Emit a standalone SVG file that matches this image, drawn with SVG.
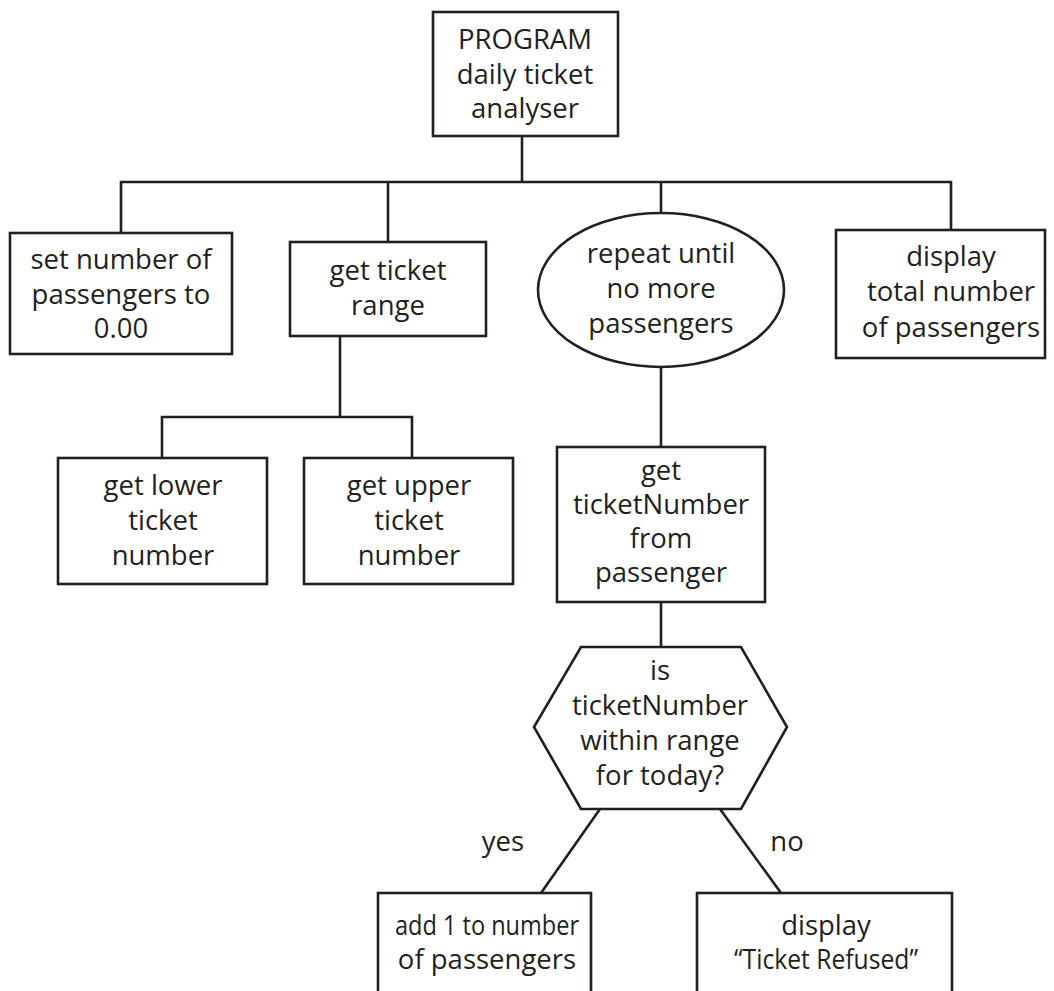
<svg xmlns="http://www.w3.org/2000/svg" width="1054" height="991" viewBox="0 0 1054 991">
<style>
.s{fill:#fff;stroke:#231f20;stroke-width:2.6}
.c{fill:none;stroke:#231f20;stroke-width:2.6}
text{font-family:"Open Sans","Liberation Sans",sans-serif;font-size:27.5px;fill:#231f20;text-anchor:middle}
</style>
<rect width="1054" height="991" fill="#fff"/>
<g id="connectors">
<line class="c" x1="522" y1="136" x2="522" y2="182"/>
<polyline class="c" points="121,233 121,182 951,182 951,230"/>
<line class="c" x1="388" y1="182" x2="388" y2="242"/>
<line class="c" x1="661" y1="182" x2="661" y2="213"/>
<line class="c" x1="340" y1="336" x2="340" y2="417"/>
<polyline class="c" points="162,458 162,417 412,417 412,458"/>
<line class="c" x1="661" y1="367" x2="661" y2="447"/>
<line class="c" x1="661" y1="602" x2="661" y2="647"/>
<line class="c" x1="600" y1="809" x2="541" y2="893"/>
<line class="c" x1="720" y1="809" x2="781" y2="893"/>
<text x="503" y="851">yes</text>
<text x="787" y="851">no</text>
</g>
<g id="root">
<rect class="s" x="433" y="12" width="185" height="124"/>
<text x="525" y="49">PROGRAM</text>
<text x="525" y="84">daily ticket</text>
<text x="525" y="118">analyser</text>
</g>
<g id="set-passengers">
<rect class="s" x="10" y="233" width="222" height="121"/>
<text x="121" y="269">set number of</text>
<text x="121" y="303.5">passengers to</text>
<text x="121" y="338">0.00</text>
</g>
<g id="get-range">
<rect class="s" x="290" y="242" width="196" height="94"/>
<text x="388" y="280">get ticket</text>
<text x="388" y="315">range</text>
</g>
<g id="repeat">
<ellipse class="s" cx="661" cy="290" rx="123" ry="77"/>
<text x="661" y="263">repeat until</text>
<text x="661" y="298">no more</text>
<text x="661" y="333">passengers</text>
</g>
<g id="display-total">
<rect class="s" x="836" y="230" width="209" height="128"/>
<text x="951" y="265.5">display</text>
<text x="951" y="301">total number</text>
<text x="951" y="336.5">of passengers</text>
</g>
<g id="get-lower">
<rect class="s" x="58" y="458" width="209" height="126"/>
<text x="163" y="495">get lower</text>
<text x="163" y="529.5">ticket</text>
<text x="163" y="565">number</text>
</g>
<g id="get-upper">
<rect class="s" x="304" y="458" width="209" height="126"/>
<text x="409" y="495">get upper</text>
<text x="409" y="529.5">ticket</text>
<text x="409" y="565">number</text>
</g>
<g id="get-ticketnumber">
<rect class="s" x="557" y="447" width="208" height="155"/>
<text x="661" y="479.5">get</text>
<text x="661" y="514">ticketNumber</text>
<text x="661" y="548">from</text>
<text x="661" y="581.5">passenger</text>
</g>
<g id="decision">
<polygon class="s" points="581,647 741,647 787,727 741,809 581,809 534,727"/>
<text x="660" y="680">is</text>
<text x="660" y="715">ticketNumber</text>
<text x="660" y="750">within range</text>
<text x="660" y="785">for today?</text>
</g>
<g id="add-one">
<rect class="s" x="378" y="893" width="213" height="120"/>
<text x="487" y="935" textLength="184" lengthAdjust="spacingAndGlyphs">add 1 to number</text>
<text x="487" y="969">of passengers</text>
</g>
<g id="refused">
<rect class="s" x="697" y="893" width="255" height="120"/>
<text x="826" y="935">display</text>
<text x="826" y="969" textLength="184" lengthAdjust="spacingAndGlyphs">“Ticket Refused”</text>
</g>
</svg>
